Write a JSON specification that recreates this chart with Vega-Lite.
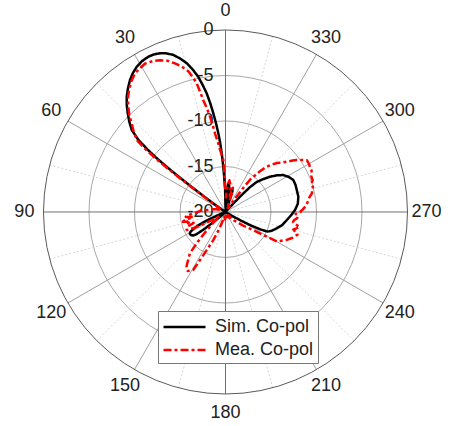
{
  "$schema": "https://vega.github.io/schema/vega-lite/v6.json",
  "width": 452,
  "height": 426,
  "padding": 0,
  "autosize": {"type": "none"},
  "background": "white",
  "config": {"view": {"stroke": null}, "font": "Liberation Sans"},
  "datasets": {
    "rings": [{"db": -15}, {"db": -10}, {"db": -5}],
    "outer": [{"db": 0}],
    "spokes": [
      {"angle": 0, "kind": "axis", "r": 0}, {"angle": 0, "kind": "axis", "r": 20},
      {"angle": 90, "kind": "axis", "r": 0}, {"angle": 90, "kind": "axis", "r": 20},
      {"angle": 180, "kind": "axis", "r": 0}, {"angle": 180, "kind": "axis", "r": 20},
      {"angle": 270, "kind": "axis", "r": 0}, {"angle": 270, "kind": "axis", "r": 20},
      {"angle": 30, "kind": "major", "r": 0}, {"angle": 30, "kind": "major", "r": 20},
      {"angle": 60, "kind": "major", "r": 0}, {"angle": 60, "kind": "major", "r": 20},
      {"angle": 120, "kind": "major", "r": 0}, {"angle": 120, "kind": "major", "r": 20},
      {"angle": 150, "kind": "major", "r": 0}, {"angle": 150, "kind": "major", "r": 20},
      {"angle": 210, "kind": "major", "r": 0}, {"angle": 210, "kind": "major", "r": 20},
      {"angle": 240, "kind": "major", "r": 0}, {"angle": 240, "kind": "major", "r": 20},
      {"angle": 300, "kind": "major", "r": 0}, {"angle": 300, "kind": "major", "r": 20},
      {"angle": 330, "kind": "major", "r": 0}, {"angle": 330, "kind": "major", "r": 20},
      {"angle": 15, "kind": "minor", "r": 0}, {"angle": 15, "kind": "minor", "r": 20},
      {"angle": 45, "kind": "minor", "r": 0}, {"angle": 45, "kind": "minor", "r": 20},
      {"angle": 75, "kind": "minor", "r": 0}, {"angle": 75, "kind": "minor", "r": 20},
      {"angle": 105, "kind": "minor", "r": 0}, {"angle": 105, "kind": "minor", "r": 20},
      {"angle": 135, "kind": "minor", "r": 0}, {"angle": 135, "kind": "minor", "r": 20},
      {"angle": 165, "kind": "minor", "r": 0}, {"angle": 165, "kind": "minor", "r": 20},
      {"angle": 195, "kind": "minor", "r": 0}, {"angle": 195, "kind": "minor", "r": 20},
      {"angle": 225, "kind": "minor", "r": 0}, {"angle": 225, "kind": "minor", "r": 20},
      {"angle": 255, "kind": "minor", "r": 0}, {"angle": 255, "kind": "minor", "r": 20},
      {"angle": 285, "kind": "minor", "r": 0}, {"angle": 285, "kind": "minor", "r": 20},
      {"angle": 315, "kind": "minor", "r": 0}, {"angle": 315, "kind": "minor", "r": 20},
      {"angle": 345, "kind": "minor", "r": 0}, {"angle": 345, "kind": "minor", "r": 20}
    ],
    "angleLabels": [
      {"angle": 0, "label": "0"}, {"angle": 30, "label": "30"}, {"angle": 60, "label": "60"}, {"angle": 90, "label": "90"},
      {"angle": 120, "label": "120"}, {"angle": 150, "label": "150"}, {"angle": 180, "label": "180"}, {"angle": 210, "label": "210"},
      {"angle": 240, "label": "240"}, {"angle": 270, "label": "270"}, {"angle": 300, "label": "300"}, {"angle": 330, "label": "330"}
    ],
    "dbLabels": [
      {"db": 0, "label": "0"}, {"db": -5, "label": "-5"}, {"db": -10, "label": "-10"}, {"db": -15, "label": "-15"}, {"db": -20, "label": "-20"}
    ],
    "pattern": [
      {"series": "Sim. Co-pol", "angle": 0, "db": -19.5},
      {"series": "Sim. Co-pol", "angle": 1, "db": -17.5},
      {"series": "Sim. Co-pol", "angle": 2.3, "db": -15.9},
      {"series": "Sim. Co-pol", "angle": 3.0, "db": -14.7},
      {"series": "Sim. Co-pol", "angle": 3.7, "db": -13.5},
      {"series": "Sim. Co-pol", "angle": 4.4, "db": -12.4},
      {"series": "Sim. Co-pol", "angle": 5.2, "db": -11.3},
      {"series": "Sim. Co-pol", "angle": 6.1, "db": -10.2},
      {"series": "Sim. Co-pol", "angle": 7.0, "db": -9.1},
      {"series": "Sim. Co-pol", "angle": 8.0, "db": -7.9},
      {"series": "Sim. Co-pol", "angle": 9.0, "db": -6.8},
      {"series": "Sim. Co-pol", "angle": 10.2, "db": -5.8},
      {"series": "Sim. Co-pol", "angle": 11.4, "db": -4.85},
      {"series": "Sim. Co-pol", "angle": 13.0, "db": -3.9},
      {"series": "Sim. Co-pol", "angle": 14.6, "db": -3.1},
      {"series": "Sim. Co-pol", "angle": 16.5, "db": -2.4},
      {"series": "Sim. Co-pol", "angle": 18.4, "db": -1.8},
      {"series": "Sim. Co-pol", "angle": 20.4, "db": -1.4},
      {"series": "Sim. Co-pol", "angle": 22.4, "db": -1.13},
      {"series": "Sim. Co-pol", "angle": 24.4, "db": -0.98},
      {"series": "Sim. Co-pol", "angle": 26.4, "db": -0.94},
      {"series": "Sim. Co-pol", "angle": 28.9, "db": -1.05},
      {"series": "Sim. Co-pol", "angle": 31.4, "db": -1.29},
      {"series": "Sim. Co-pol", "angle": 33.7, "db": -1.65},
      {"series": "Sim. Co-pol", "angle": 35.9, "db": -2.1},
      {"series": "Sim. Co-pol", "angle": 38.3, "db": -2.7},
      {"series": "Sim. Co-pol", "angle": 40.6, "db": -3.32},
      {"series": "Sim. Co-pol", "angle": 42.7, "db": -4.0},
      {"series": "Sim. Co-pol", "angle": 44.7, "db": -4.73},
      {"series": "Sim. Co-pol", "angle": 46.8, "db": -5.5},
      {"series": "Sim. Co-pol", "angle": 48.8, "db": -6.31},
      {"series": "Sim. Co-pol", "angle": 50.3, "db": -7.5},
      {"series": "Sim. Co-pol", "angle": 51.3, "db": -9.0},
      {"series": "Sim. Co-pol", "angle": 52.0, "db": -10.5},
      {"series": "Sim. Co-pol", "angle": 52.5, "db": -12.0},
      {"series": "Sim. Co-pol", "angle": 53.0, "db": -13.7},
      {"series": "Sim. Co-pol", "angle": 53.5, "db": -15.5},
      {"series": "Sim. Co-pol", "angle": 54.2, "db": -17.2},
      {"series": "Sim. Co-pol", "angle": 55.0, "db": -18.6},
      {"series": "Sim. Co-pol", "angle": 57.0, "db": -19.8},
      {"series": "Sim. Co-pol", "angle": 60, "db": -20},
      {"series": "Sim. Co-pol", "angle": 110, "db": -20},
      {"series": "Sim. Co-pol", "angle": 112, "db": -19.5},
      {"series": "Sim. Co-pol", "angle": 114, "db": -18.0},
      {"series": "Sim. Co-pol", "angle": 116, "db": -16.6},
      {"series": "Sim. Co-pol", "angle": 118, "db": -15.9},
      {"series": "Sim. Co-pol", "angle": 120, "db": -15.5},
      {"series": "Sim. Co-pol", "angle": 122, "db": -15.4},
      {"series": "Sim. Co-pol", "angle": 124, "db": -15.45},
      {"series": "Sim. Co-pol", "angle": 126, "db": -15.6},
      {"series": "Sim. Co-pol", "angle": 127.5, "db": -16.0},
      {"series": "Sim. Co-pol", "angle": 128.7, "db": -16.9},
      {"series": "Sim. Co-pol", "angle": 129.5, "db": -18.0},
      {"series": "Sim. Co-pol", "angle": 131, "db": -19.3},
      {"series": "Sim. Co-pol", "angle": 134, "db": -20},
      {"series": "Sim. Co-pol", "angle": 236, "db": -20},
      {"series": "Sim. Co-pol", "angle": 239, "db": -19.2},
      {"series": "Sim. Co-pol", "angle": 241, "db": -18.0},
      {"series": "Sim. Co-pol", "angle": 242, "db": -16.9},
      {"series": "Sim. Co-pol", "angle": 243.5, "db": -15.7},
      {"series": "Sim. Co-pol", "angle": 245, "db": -14.9},
      {"series": "Sim. Co-pol", "angle": 248, "db": -14.5},
      {"series": "Sim. Co-pol", "angle": 252.3, "db": -14.1},
      {"series": "Sim. Co-pol", "angle": 257, "db": -13.6},
      {"series": "Sim. Co-pol", "angle": 262.6, "db": -13.2},
      {"series": "Sim. Co-pol", "angle": 267, "db": -12.8},
      {"series": "Sim. Co-pol", "angle": 271.6, "db": -12.36},
      {"series": "Sim. Co-pol", "angle": 276.5, "db": -12.0},
      {"series": "Sim. Co-pol", "angle": 281.9, "db": -11.82},
      {"series": "Sim. Co-pol", "angle": 287.2, "db": -11.8},
      {"series": "Sim. Co-pol", "angle": 291.2, "db": -11.75},
      {"series": "Sim. Co-pol", "angle": 295.3, "db": -11.76},
      {"series": "Sim. Co-pol", "angle": 299, "db": -12.05},
      {"series": "Sim. Co-pol", "angle": 302.6, "db": -12.46},
      {"series": "Sim. Co-pol", "angle": 305.5, "db": -13.05},
      {"series": "Sim. Co-pol", "angle": 308.4, "db": -13.76},
      {"series": "Sim. Co-pol", "angle": 311.5, "db": -14.6},
      {"series": "Sim. Co-pol", "angle": 314, "db": -15.3},
      {"series": "Sim. Co-pol", "angle": 315.5, "db": -16.2},
      {"series": "Sim. Co-pol", "angle": 316.5, "db": -17.5},
      {"series": "Sim. Co-pol", "angle": 317.5, "db": -18.8},
      {"series": "Sim. Co-pol", "angle": 319, "db": -19.8},
      {"series": "Sim. Co-pol", "angle": 325, "db": -20},
      {"series": "Sim. Co-pol", "angle": 338, "db": -20},
      {"series": "Sim. Co-pol", "angle": 340, "db": -19.5},
      {"series": "Sim. Co-pol", "angle": 341.5, "db": -17.6},
      {"series": "Sim. Co-pol", "angle": 343, "db": -17.4},
      {"series": "Sim. Co-pol", "angle": 344.5, "db": -18.6},
      {"series": "Sim. Co-pol", "angle": 346, "db": -19.0},
      {"series": "Sim. Co-pol", "angle": 348, "db": -18.2},
      {"series": "Sim. Co-pol", "angle": 350, "db": -17.6},
      {"series": "Sim. Co-pol", "angle": 352, "db": -17.1},
      {"series": "Sim. Co-pol", "angle": 354.5, "db": -16.9},
      {"series": "Sim. Co-pol", "angle": 356, "db": -17.6},
      {"series": "Sim. Co-pol", "angle": 357.5, "db": -19.2},
      {"series": "Sim. Co-pol", "angle": 359, "db": -20},

      {"series": "Mea. Co-pol", "angle": 0.5, "db": -17.5},
      {"series": "Mea. Co-pol", "angle": 1.5, "db": -15.8},
      {"series": "Mea. Co-pol", "angle": 2.4, "db": -14.3},
      {"series": "Mea. Co-pol", "angle": 3.5, "db": -13.8},
      {"series": "Mea. Co-pol", "angle": 5.1, "db": -13.1},
      {"series": "Mea. Co-pol", "angle": 6.3, "db": -12.2},
      {"series": "Mea. Co-pol", "angle": 7.6, "db": -11.3},
      {"series": "Mea. Co-pol", "angle": 8.4, "db": -10.3},
      {"series": "Mea. Co-pol", "angle": 9.2, "db": -9.4},
      {"series": "Mea. Co-pol", "angle": 10.2, "db": -8.4},
      {"series": "Mea. Co-pol", "angle": 11.2, "db": -7.5},
      {"series": "Mea. Co-pol", "angle": 12.0, "db": -6.4},
      {"series": "Mea. Co-pol", "angle": 12.6, "db": -5.5},
      {"series": "Mea. Co-pol", "angle": 13.7, "db": -4.7},
      {"series": "Mea. Co-pol", "angle": 14.8, "db": -4.0},
      {"series": "Mea. Co-pol", "angle": 16.8, "db": -3.3},
      {"series": "Mea. Co-pol", "angle": 18.8, "db": -2.75},
      {"series": "Mea. Co-pol", "angle": 21.0, "db": -2.2},
      {"series": "Mea. Co-pol", "angle": 23.3, "db": -1.85},
      {"series": "Mea. Co-pol", "angle": 25.5, "db": -1.6},
      {"series": "Mea. Co-pol", "angle": 28.4, "db": -1.45},
      {"series": "Mea. Co-pol", "angle": 30.5, "db": -1.6},
      {"series": "Mea. Co-pol", "angle": 33.1, "db": -1.8},
      {"series": "Mea. Co-pol", "angle": 35.8, "db": -2.3},
      {"series": "Mea. Co-pol", "angle": 38.3, "db": -2.9},
      {"series": "Mea. Co-pol", "angle": 40.5, "db": -3.5},
      {"series": "Mea. Co-pol", "angle": 42.7, "db": -4.25},
      {"series": "Mea. Co-pol", "angle": 44.8, "db": -5.0},
      {"series": "Mea. Co-pol", "angle": 46.6, "db": -5.8},
      {"series": "Mea. Co-pol", "angle": 48.8, "db": -6.6},
      {"series": "Mea. Co-pol", "angle": 51.0, "db": -7.5},
      {"series": "Mea. Co-pol", "angle": 52.0, "db": -9.0},
      {"series": "Mea. Co-pol", "angle": 52.6, "db": -10.5},
      {"series": "Mea. Co-pol", "angle": 53.0, "db": -12.0},
      {"series": "Mea. Co-pol", "angle": 53.4, "db": -13.5},
      {"series": "Mea. Co-pol", "angle": 53.8, "db": -15.2},
      {"series": "Mea. Co-pol", "angle": 54.5, "db": -16.8},
      {"series": "Mea. Co-pol", "angle": 55.5, "db": -18.2},
      {"series": "Mea. Co-pol", "angle": 58, "db": -19.2},
      {"series": "Mea. Co-pol", "angle": 62, "db": -18.8},
      {"series": "Mea. Co-pol", "angle": 66, "db": -19.5},
      {"series": "Mea. Co-pol", "angle": 72, "db": -19.0},
      {"series": "Mea. Co-pol", "angle": 78, "db": -18.6},
      {"series": "Mea. Co-pol", "angle": 84, "db": -18.0},
      {"series": "Mea. Co-pol", "angle": 88, "db": -17.2},
      {"series": "Mea. Co-pol", "angle": 92, "db": -16.5},
      {"series": "Mea. Co-pol", "angle": 95, "db": -15.9},
      {"series": "Mea. Co-pol", "angle": 97, "db": -15.6},
      {"series": "Mea. Co-pol", "angle": 99, "db": -16.4},
      {"series": "Mea. Co-pol", "angle": 101, "db": -15.5},
      {"series": "Mea. Co-pol", "angle": 103, "db": -15.2},
      {"series": "Mea. Co-pol", "angle": 105, "db": -16.0},
      {"series": "Mea. Co-pol", "angle": 107, "db": -15.7},
      {"series": "Mea. Co-pol", "angle": 109, "db": -16.3},
      {"series": "Mea. Co-pol", "angle": 111, "db": -15.6},
      {"series": "Mea. Co-pol", "angle": 113, "db": -15.4},
      {"series": "Mea. Co-pol", "angle": 115, "db": -15.3},
      {"series": "Mea. Co-pol", "angle": 117, "db": -16.2},
      {"series": "Mea. Co-pol", "angle": 119, "db": -17.3},
      {"series": "Mea. Co-pol", "angle": 122, "db": -18.5},
      {"series": "Mea. Co-pol", "angle": 126, "db": -19.2},
      {"series": "Mea. Co-pol", "angle": 130, "db": -18.5},
      {"series": "Mea. Co-pol", "angle": 133, "db": -17.8},
      {"series": "Mea. Co-pol", "angle": 135.5, "db": -16.6},
      {"series": "Mea. Co-pol", "angle": 137.4, "db": -15.3},
      {"series": "Mea. Co-pol", "angle": 139.3, "db": -14.0},
      {"series": "Mea. Co-pol", "angle": 141, "db": -13.6},
      {"series": "Mea. Co-pol", "angle": 142.2, "db": -13.3},
      {"series": "Mea. Co-pol", "angle": 143.5, "db": -12.9},
      {"series": "Mea. Co-pol", "angle": 144.6, "db": -12.6},
      {"series": "Mea. Co-pol", "angle": 146, "db": -12.4},
      {"series": "Mea. Co-pol", "angle": 147.5, "db": -12.3},
      {"series": "Mea. Co-pol", "angle": 149, "db": -12.5},
      {"series": "Mea. Co-pol", "angle": 150.9, "db": -12.7},
      {"series": "Mea. Co-pol", "angle": 152, "db": -14.0},
      {"series": "Mea. Co-pol", "angle": 153.7, "db": -15.3},
      {"series": "Mea. Co-pol", "angle": 155, "db": -16.0},
      {"series": "Mea. Co-pol", "angle": 156.5, "db": -16.6},
      {"series": "Mea. Co-pol", "angle": 159, "db": -17.8},
      {"series": "Mea. Co-pol", "angle": 162, "db": -18.8},
      {"series": "Mea. Co-pol", "angle": 167, "db": -19.5},
      {"series": "Mea. Co-pol", "angle": 175, "db": -19.0},
      {"series": "Mea. Co-pol", "angle": 185, "db": -19.6},
      {"series": "Mea. Co-pol", "angle": 195, "db": -19.2},
      {"series": "Mea. Co-pol", "angle": 205, "db": -19.5},
      {"series": "Mea. Co-pol", "angle": 215, "db": -19.0},
      {"series": "Mea. Co-pol", "angle": 222, "db": -19.5},
      {"series": "Mea. Co-pol", "angle": 225, "db": -18.7},
      {"series": "Mea. Co-pol", "angle": 229, "db": -18.3},
      {"series": "Mea. Co-pol", "angle": 232, "db": -17.6},
      {"series": "Mea. Co-pol", "angle": 235, "db": -17.0},
      {"series": "Mea. Co-pol", "angle": 237, "db": -16.3},
      {"series": "Mea. Co-pol", "angle": 238.3, "db": -15.5},
      {"series": "Mea. Co-pol", "angle": 239.4, "db": -14.4},
      {"series": "Mea. Co-pol", "angle": 240.2, "db": -13.5},
      {"series": "Mea. Co-pol", "angle": 242, "db": -13.2},
      {"series": "Mea. Co-pol", "angle": 244, "db": -12.9},
      {"series": "Mea. Co-pol", "angle": 245.5, "db": -12.6},
      {"series": "Mea. Co-pol", "angle": 247, "db": -12.4},
      {"series": "Mea. Co-pol", "angle": 249, "db": -12.1},
      {"series": "Mea. Co-pol", "angle": 251, "db": -11.9},
      {"series": "Mea. Co-pol", "angle": 252.5, "db": -11.7},
      {"series": "Mea. Co-pol", "angle": 254, "db": -12.0},
      {"series": "Mea. Co-pol", "angle": 255.5, "db": -12.3},
      {"series": "Mea. Co-pol", "angle": 257, "db": -12.0},
      {"series": "Mea. Co-pol", "angle": 258.8, "db": -11.7},
      {"series": "Mea. Co-pol", "angle": 260, "db": -12.2},
      {"series": "Mea. Co-pol", "angle": 261.6, "db": -12.5},
      {"series": "Mea. Co-pol", "angle": 263.3, "db": -12.4},
      {"series": "Mea. Co-pol", "angle": 265, "db": -12.1},
      {"series": "Mea. Co-pol", "angle": 267, "db": -12.0},
      {"series": "Mea. Co-pol", "angle": 268.5, "db": -12.3},
      {"series": "Mea. Co-pol", "angle": 270, "db": -11.8},
      {"series": "Mea. Co-pol", "angle": 272, "db": -11.5},
      {"series": "Mea. Co-pol", "angle": 274, "db": -11.2},
      {"series": "Mea. Co-pol", "angle": 276, "db": -11.0},
      {"series": "Mea. Co-pol", "angle": 278, "db": -10.8},
      {"series": "Mea. Co-pol", "angle": 280.3, "db": -10.6},
      {"series": "Mea. Co-pol", "angle": 282, "db": -10.3},
      {"series": "Mea. Co-pol", "angle": 284, "db": -10.2},
      {"series": "Mea. Co-pol", "angle": 286, "db": -10.0},
      {"series": "Mea. Co-pol", "angle": 288, "db": -10.1},
      {"series": "Mea. Co-pol", "angle": 290, "db": -9.8},
      {"series": "Mea. Co-pol", "angle": 292.3, "db": -9.8},
      {"series": "Mea. Co-pol", "angle": 294, "db": -9.6},
      {"series": "Mea. Co-pol", "angle": 296, "db": -9.5},
      {"series": "Mea. Co-pol", "angle": 298, "db": -9.5},
      {"series": "Mea. Co-pol", "angle": 300, "db": -9.4},
      {"series": "Mea. Co-pol", "angle": 302.4, "db": -9.4},
      {"series": "Mea. Co-pol", "angle": 304, "db": -9.8},
      {"series": "Mea. Co-pol", "angle": 306.1, "db": -10.3},
      {"series": "Mea. Co-pol", "angle": 307.5, "db": -10.7},
      {"series": "Mea. Co-pol", "angle": 309.4, "db": -11.3},
      {"series": "Mea. Co-pol", "angle": 311, "db": -11.7},
      {"series": "Mea. Co-pol", "angle": 313.7, "db": -12.2},
      {"series": "Mea. Co-pol", "angle": 316, "db": -12.8},
      {"series": "Mea. Co-pol", "angle": 317.7, "db": -13.3},
      {"series": "Mea. Co-pol", "angle": 319.5, "db": -14.0},
      {"series": "Mea. Co-pol", "angle": 321, "db": -14.8},
      {"series": "Mea. Co-pol", "angle": 322.5, "db": -15.3},
      {"series": "Mea. Co-pol", "angle": 323.5, "db": -16.5},
      {"series": "Mea. Co-pol", "angle": 324.5, "db": -18.0},
      {"series": "Mea. Co-pol", "angle": 326, "db": -19.5},
      {"series": "Mea. Co-pol", "angle": 330, "db": -19.3},
      {"series": "Mea. Co-pol", "angle": 335, "db": -19.6},
      {"series": "Mea. Co-pol", "angle": 339, "db": -19.0},
      {"series": "Mea. Co-pol", "angle": 341, "db": -17.8},
      {"series": "Mea. Co-pol", "angle": 343, "db": -17.2},
      {"series": "Mea. Co-pol", "angle": 345, "db": -18.2},
      {"series": "Mea. Co-pol", "angle": 347, "db": -17.6},
      {"series": "Mea. Co-pol", "angle": 349, "db": -17.0},
      {"series": "Mea. Co-pol", "angle": 351, "db": -16.8},
      {"series": "Mea. Co-pol", "angle": 353, "db": -16.5},
      {"series": "Mea. Co-pol", "angle": 355, "db": -17.0},
      {"series": "Mea. Co-pol", "angle": 357, "db": -17.8},
      {"series": "Mea. Co-pol", "angle": 359, "db": -18.5}
    ]
  },
  "layer": [
    {
      "data": {"name": "rings"},
      "transform": [{"calculate": "datum.db + 20", "as": "r"}],
      "mark": {"type": "point", "shape": "circle", "filled": false, "stroke": "#a8a8a8", "strokeWidth": 1, "opacity": 1},
      "encoding": {
        "x": {"datum": 0, "type": "quantitative", "scale": {"domain": [-24.78, 24.89], "nice": false, "zero": false}, "axis": null},
        "y": {"datum": 0, "type": "quantitative", "scale": {"domain": [-23.52, 23.30], "nice": false, "zero": false}, "axis": null},
        "size": {"field": "r", "type": "quantitative", "scale": {"type": "pow", "exponent": 2, "domain": [0, 20], "range": [0, 132496], "zero": true}, "legend": null}
      }
    },
    {
      "data": {"name": "spokes"},
      "transform": [
        {"filter": "datum.kind === 'minor'"},
        {"calculate": "-datum.r * sin(datum.angle * PI / 180)", "as": "px"},
        {"calculate": "datum.r * cos(datum.angle * PI / 180)", "as": "py"}
      ],
      "mark": {"type": "line", "stroke": "#d6d6d6", "strokeWidth": 1, "strokeDash": [2, 2]},
      "encoding": {
        "x": {"field": "px", "type": "quantitative", "scale": {"domain": [-24.78, 24.89], "nice": false, "zero": false}, "axis": null},
        "y": {"field": "py", "type": "quantitative", "scale": {"domain": [-23.52, 23.30], "nice": false, "zero": false}, "axis": null},
        "detail": {"field": "angle", "type": "nominal"},
        "order": {"field": "r", "type": "quantitative"}
      }
    },
    {
      "data": {"name": "spokes"},
      "transform": [
        {"filter": "datum.kind === 'major'"},
        {"calculate": "-datum.r * sin(datum.angle * PI / 180)", "as": "px"},
        {"calculate": "datum.r * cos(datum.angle * PI / 180)", "as": "py"}
      ],
      "mark": {"type": "line", "stroke": "#a0a0a0", "strokeWidth": 1},
      "encoding": {
        "x": {"field": "px", "type": "quantitative", "scale": {"domain": [-24.78, 24.89], "nice": false, "zero": false}, "axis": null},
        "y": {"field": "py", "type": "quantitative", "scale": {"domain": [-23.52, 23.30], "nice": false, "zero": false}, "axis": null},
        "detail": {"field": "angle", "type": "nominal"},
        "order": {"field": "r", "type": "quantitative"}
      }
    },
    {
      "data": {"name": "spokes"},
      "transform": [
        {"filter": "datum.kind === 'axis'"},
        {"calculate": "-datum.r * sin(datum.angle * PI / 180)", "as": "px"},
        {"calculate": "datum.r * cos(datum.angle * PI / 180)", "as": "py"}
      ],
      "mark": {"type": "line", "stroke": "#707070", "strokeWidth": 1},
      "encoding": {
        "x": {"field": "px", "type": "quantitative", "scale": {"domain": [-24.78, 24.89], "nice": false, "zero": false}, "axis": null},
        "y": {"field": "py", "type": "quantitative", "scale": {"domain": [-23.52, 23.30], "nice": false, "zero": false}, "axis": null},
        "detail": {"field": "angle", "type": "nominal"},
        "order": {"field": "r", "type": "quantitative"}
      }
    },
    {
      "data": {"name": "outer"},
      "transform": [{"calculate": "datum.db + 20", "as": "r"}],
      "mark": {"type": "point", "shape": "circle", "filled": false, "stroke": "#5a5a5a", "strokeWidth": 1, "opacity": 1},
      "encoding": {
        "x": {"datum": 0, "type": "quantitative", "scale": {"domain": [-24.78, 24.89], "nice": false, "zero": false}, "axis": null},
        "y": {"datum": 0, "type": "quantitative", "scale": {"domain": [-23.52, 23.30], "nice": false, "zero": false}, "axis": null},
        "size": {"field": "r", "type": "quantitative", "scale": {"type": "pow", "exponent": 2, "domain": [0, 20], "range": [0, 132496], "zero": true}, "legend": null}
      }
    },
    {
      "data": {"name": "angleLabels"},
      "transform": [
        {"calculate": "-22.1 * sin(datum.angle * PI / 180)", "as": "lx"},
        {"calculate": "22.1 * cos(datum.angle * PI / 180)", "as": "ly"}
      ],
      "mark": {"type": "text", "fontSize": 18, "align": "center", "baseline": "middle", "color": "#222222", "font": "Liberation Sans"},
      "encoding": {
        "x": {"field": "lx", "type": "quantitative", "scale": {"domain": [-24.78, 24.89], "nice": false, "zero": false}, "axis": null},
        "y": {"field": "ly", "type": "quantitative", "scale": {"domain": [-23.52, 23.30], "nice": false, "zero": false}, "axis": null},
        "text": {"field": "label"}
      }
    },
    {
      "data": {"name": "dbLabels"},
      "transform": [
        {"calculate": "datum.db + 20", "as": "r"},
        {"calculate": "datum.r * 0", "as": "zx"}
      ],
      "mark": {"type": "text", "fontSize": 18, "align": "right", "baseline": "middle", "dx": -12, "color": "#222222", "font": "Liberation Sans"},
      "encoding": {
        "x": {"field": "zx", "type": "quantitative", "scale": {"domain": [-24.78, 24.89], "nice": false, "zero": false}, "axis": null},
        "y": {"field": "r", "type": "quantitative", "scale": {"domain": [-23.52, 23.30], "nice": false, "zero": false}, "axis": null},
        "text": {"field": "label"}
      }
    },
    {
      "data": {"name": "pattern"},
      "transform": [
        {"calculate": "datum.db + 20", "as": "r"},
        {"calculate": "-datum.r * sin(datum.angle * PI / 180)", "as": "px"},
        {"calculate": "datum.r * cos(datum.angle * PI / 180)", "as": "py"}
      ],
      "mark": {"type": "line", "strokeWidth": 2.5, "strokeJoin": "round"},
      "encoding": {
        "x": {"field": "px", "type": "quantitative", "scale": {"domain": [-24.78, 24.89], "nice": false, "zero": false}, "axis": null},
        "y": {"field": "py", "type": "quantitative", "scale": {"domain": [-23.52, 23.30], "nice": false, "zero": false}, "axis": null},
        "order": {"field": "angle", "type": "quantitative"},
        "color": {
          "field": "series", "type": "nominal",
          "scale": {"domain": ["Sim. Co-pol", "Mea. Co-pol"], "range": ["#000000", "#ff0000"]},
          "legend": {"title": null, "orient": "none", "legendX": 158, "legendY": 311, "fillColor": "white", "strokeColor": "#777777", "padding": 4, "labelFontSize": 18, "labelFont": "Liberation Sans", "labelColor": "#222222", "symbolType": "M-1,0H3", "symbolSize": 441, "symbolStrokeWidth": 2.5, "labelOffset": 29, "rowPadding": 2}
        },
        "strokeDash": {
          "field": "series", "type": "nominal",
          "scale": {"domain": ["Sim. Co-pol", "Mea. Co-pol"], "range": [[1, 0], [8, 3, 3, 3]]},
          "legend": {"title": null, "orient": "none", "legendX": 158, "legendY": 311, "fillColor": "white", "strokeColor": "#777777", "padding": 4, "labelFontSize": 18, "labelFont": "Liberation Sans", "labelColor": "#222222", "symbolType": "M-1,0H3", "symbolSize": 441, "symbolStrokeWidth": 2.5, "labelOffset": 29, "rowPadding": 2}
        }
      }
    }
  ]
}
